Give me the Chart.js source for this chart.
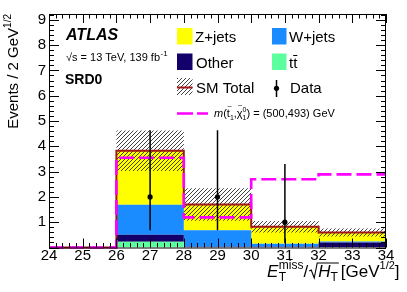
<!DOCTYPE html>
<html>
<head>
<meta charset="utf-8">
<script src="https://cdn.jsdelivr.net/npm/chart.js@4.4.0/dist/chart.umd.min.js"></script>
<style>
  html, body { margin: 0; padding: 0; background: #fff; }
  #wrap { width: 407px; height: 292px; }
</style>
</head>
<body>
<div id="wrap"><canvas id="chart"></canvas></div>
<script>
// histogram bins (E_T^miss / sqrt(H_T))
const binEdges = [24, 26, 28, 30, 32, 34];
const ttbar  = [0, 0.23, 0.00, 0.00, 0.00];
const other  = [0, 0.27, 0.03, 0.03, 0.20];
const wjets  = [0, 1.19, 0.65, 0.12, 0.04];
const zjets  = [0, 2.13, 1.02, 0.67, 0.35];
const smTotal = [0, 3.82, 1.70, 0.82, 0.59];
const smUnc   = [0, 0.80, 0.64, 0.23, 0.16];
const signal  = [0, 3.55, 1.19, 2.70, 2.89];
// data points with asymmetric errors
const dataX = [27, 29, 31];
const dataY = [2, 2, 1];
const dataErrLo = [1.32, 1.32, 0.83];
const dataErrHi = [2.63, 2.63, 2.30];

const xMin = 24, xMax = 34, yMax = 9.23;
const FF = '"Liberation Sans", Arial, Helvetica, sans-serif';

// step points: one per bin edge, last bin repeated at the right edge
function steps(vals) {
  return binEdges.map((x, i) => ({ x, y: vals[Math.min(i, vals.length - 1)] }));
}
const bandLo = smTotal.map((v, i) => v - smUnc[i]);
const bandHi = smTotal.map((v, i) => v + smUnc[i]);

const errPts = [];
dataX.forEach((x, i) => {
  errPts.push({ x, y: dataY[i] - dataErrLo[i] }, { x, y: dataY[i] + dataErrHi[i] }, { x, y: null });
});

// hatch pattern for the SM uncertainty
const pc = document.createElement('canvas');
pc.width = 4; pc.height = 4;
const pctx = pc.getContext('2d');
pctx.strokeStyle = '#111';
pctx.lineWidth = 0.8;
pctx.beginPath();
pctx.moveTo(0, 4); pctx.lineTo(4, 0);
pctx.moveTo(-1, 1); pctx.lineTo(1, -1);
pctx.moveTo(3, 5); pctx.lineTo(5, 3);
pctx.stroke();
const hatch = pctx.createPattern(pc, 'repeat');

const C_Z = '#ffff00', C_W = '#1a8cff', C_O = '#14006b', C_T = '#5cff9d';
const C_SM = '#a01818', C_SIG = '#ff00ff';

function txt(ctx, s, x, y, font) {
  ctx.font = font;
  ctx.fillText(s, x, y);
  return ctx.measureText(s).width;
}

const decor = {
  id: 'decor',
  afterDraw(chart) {
    const ctx = chart.ctx;
    const { left, right, top, bottom } = chart.chartArea;
    const xs = chart.scales.x, ys = chart.scales.y;
    ctx.save();
    ctx.strokeStyle = '#000';
    ctx.fillStyle = '#000';
    ctx.lineWidth = 1;

    // inward ticks on all four sides
    ctx.beginPath();
    for (let k = 0; xMin + k * 0.2 <= xMax + 1e-6; k++) {
      const px = Math.round(xs.getPixelForValue(xMin + k * 0.2)) + 0.5;
      const len = k % 5 === 0 ? 9 : 4.5;
      ctx.moveTo(px, bottom); ctx.lineTo(px, bottom - len);
      ctx.moveTo(px, top); ctx.lineTo(px, top + len);
    }
    for (let k = 0; k * 0.2 <= yMax; k++) {
      const py = Math.round(ys.getPixelForValue(k * 0.2)) + 0.5;
      const len = k % 5 === 0 ? 10 : 5;
      ctx.moveTo(left, py); ctx.lineTo(left + len, py);
      ctx.moveTo(right, py); ctx.lineTo(right - len, py);
    }
    ctx.stroke();
    ctx.strokeRect(left + 0.5, top + 0.5, right - left - 1, bottom - top);

    ctx.textAlign = 'left';
    ctx.textBaseline = 'alphabetic';

    // ATLAS label
    txt(ctx, 'ATLAS', 66, 40, `italic bold 16px ${FF}`);
    let w = txt(ctx, '\u221As = 13 TeV, 139 fb', 66, 61, `11px ${FF}`);
    txt(ctx, '-1', 66 + w + 0.5, 56, `8px ${FF}`);
    txt(ctx, 'SRD0', 65, 84, `bold 14px ${FF}`);

    // legend
    const f15 = `15px ${FF}`;
    ctx.fillStyle = C_Z; ctx.fillRect(177, 28, 15.5, 16.5);
    ctx.fillStyle = C_W; ctx.fillRect(272, 28, 14.5, 16.5);
    ctx.fillStyle = C_O; ctx.fillRect(177, 53.5, 15.5, 16.5);
    ctx.fillStyle = C_T; ctx.fillRect(272, 53.5, 14.5, 16.5);
    ctx.fillStyle = hatch; ctx.fillRect(177, 78, 15.5, 17);
    ctx.fillStyle = '#000';
    txt(ctx, 'Z+jets', 195, 42, f15);
    txt(ctx, 'W+jets', 289, 42, f15);
    txt(ctx, 'Other', 196, 68, f15);
    w = txt(ctx, 't', 289, 68, f15);
    const w2 = txt(ctx, 't', 289 + w, 68, f15);
    ctx.beginPath(); ctx.moveTo(289 + w, 55.5); ctx.lineTo(289 + w + w2, 55.5); ctx.lineWidth = 1; ctx.stroke();
    txt(ctx, 'SM Total', 196, 93, f15);
    txt(ctx, 'Data', 290, 93, f15);
    ctx.strokeStyle = C_SM; ctx.lineWidth = 2;
    ctx.beginPath(); ctx.moveTo(177, 87.5); ctx.lineTo(192.5, 87.5); ctx.stroke();
    ctx.strokeStyle = '#000'; ctx.lineWidth = 1.5;
    ctx.beginPath(); ctx.moveTo(276.5, 80); ctx.lineTo(276.5, 97); ctx.stroke();
    ctx.beginPath(); ctx.arc(276.5, 88.3, 2.6, 0, Math.PI * 2); ctx.fill();
    ctx.strokeStyle = C_SIG; ctx.lineWidth = 2.6; ctx.setLineDash([16, 4]);
    ctx.beginPath(); ctx.moveTo(177, 113.5); ctx.lineTo(208, 113.5); ctx.stroke();
    ctx.setLineDash([]);

    // signal label m(t~1, chi~1^0) = (500,493) GeV
    const by = 117;
    let x = 214;
    x += txt(ctx, 'm', x, by, `italic 11px ${FF}`);
    x += txt(ctx, '(', x, by, `11px ${FF}`);
    txt(ctx, '~', x + 0.5, by - 8, `8px ${FF}`);
    x += txt(ctx, 't', x, by, `11px ${FF}`);
    x += txt(ctx, '1', x, by + 3, `7px ${FF}`);
    x += txt(ctx, ',', x, by, `11px ${FF}`);
    txt(ctx, '~', x + 1, by - 9, `8px ${FF}`);
    x += txt(ctx, '\u03C7', x, by, `11px ${FF}`);
    txt(ctx, '0', x, by - 5, `7px ${FF}`);
    x += txt(ctx, '1', x, by + 3, `7px ${FF}`);
    txt(ctx, ') = (500,493) GeV', x, by, `11px ${FF}`);

    // x axis title
    let tx = 267; const tb = 277;
    tx += txt(ctx, 'E', tx, tb, `italic 17px ${FF}`) + 0.5;
    const wm = txt(ctx, 'miss', tx, tb - 8, `12px ${FF}`);
    txt(ctx, 'T', tx, tb + 4, `12px ${FF}`);
    tx += wm;
    tx += txt(ctx, '/', tx, tb, `17px ${FF}`) + 1;
    ctx.font = `italic 17px ${FF}`; const wH = ctx.measureText('H').width;
    ctx.font = `12px ${FF}`; const wT = ctx.measureText('T').width;
    const sx = tx, ex = sx + 9 + wH + wT + 1;
    ctx.strokeStyle = '#000'; ctx.lineWidth = 1.1;
    ctx.beginPath();
    ctx.moveTo(sx, tb - 6); ctx.lineTo(sx + 2, tb - 7); ctx.lineTo(sx + 5, tb + 1);
    ctx.lineTo(sx + 8, tb - 14); ctx.lineTo(ex, tb - 14);
    ctx.stroke();
    tx = sx + 9;
    tx += txt(ctx, 'H', tx, tb, `italic 17px ${FF}`);
    tx += txt(ctx, 'T', tx, tb + 4, `12px ${FF}`) + 3;
    tx += txt(ctx, '[GeV', tx, tb, `17px ${FF}`);
    tx += txt(ctx, '1/2', tx, tb - 8, `11px ${FF}`);
    txt(ctx, ']', tx, tb, `17px ${FF}`);

    // y axis title (rotated, end aligned at the top)
    ctx.translate(18, 14);
    ctx.rotate(-Math.PI / 2);
    ctx.font = `15px ${FF}`;
    const wa = ctx.measureText('Events / 2 GeV').width;
    ctx.font = `10px ${FF}`;
    const wb = ctx.measureText('1/2').width;
    txt(ctx, 'Events / 2 GeV', -(wa + wb), 0, `15px ${FF}`);
    txt(ctx, '1/2', -wb, -7, `10px ${FF}`);
    ctx.restore();
  }
};

const line = { pointRadius: 0, stepped: true, fill: false };

new Chart(document.getElementById('chart'), {
  type: 'line',
  data: {
    datasets: [
      { label: 'err', data: errPts, borderColor: '#000', borderWidth: 1.5, pointRadius: 0, spanGaps: false, fill: false, stack: 'e' },
      { label: 'Data', data: dataX.map((x, i) => ({ x, y: dataY[i] })), showLine: false, pointRadius: 2.6,
        pointBackgroundColor: '#000', pointBorderWidth: 0, stack: 'd' },
      { ...line, label: 'signal', data: steps(signal), borderColor: C_SIG, borderWidth: 2.6, borderDash: [15, 5], stack: 's', clip: 4 },
      { ...line, label: 'SM Total', data: steps(smTotal), borderColor: C_SM, borderWidth: 2, stack: 't', clip: 4 },
      { ...line, label: 'bandHi', data: steps(bandHi), borderWidth: 0, backgroundColor: hatch, fill: '+1', stack: 'bh' },
      { ...line, label: 'bandLo', data: steps(bandLo), borderWidth: 0, stack: 'bl' },
      { ...line, label: 'ttbar', data: steps(ttbar), borderWidth: 0, backgroundColor: C_T, fill: 'origin', stack: 'bkg' },
      { ...line, label: 'Other', data: steps(other), borderWidth: 0, backgroundColor: C_O, fill: '-1', stack: 'bkg' },
      { ...line, label: 'W+jets', data: steps(wjets), borderWidth: 0, backgroundColor: C_W, fill: '-1', stack: 'bkg' },
      { ...line, label: 'Z+jets', data: steps(zjets), borderWidth: 0, backgroundColor: C_Z, fill: '-1', stack: 'bkg' }
    ]
  },
  options: {
    responsive: true,
    maintainAspectRatio: false,
    animation: false,
    devicePixelRatio: 1,
    layout: { padding: { top: 14, right: 21, left: 0, bottom: 0 } },
    plugins: { legend: { display: false }, tooltip: { enabled: false } },
    scales: {
      x: {
        type: 'linear', min: xMin, max: xMax,
        grid: { display: false, drawTicks: false },
        border: { display: false },
        ticks: { stepSize: 1, autoSkip: false, maxRotation: 0, padding: -1, color: '#000', font: { family: FF, size: 15 } },
        afterFit: s => { s.height = 44.5; }
      },
      y: {
        type: 'linear', stacked: true, min: 0, max: yMax,
        grid: { display: false, drawTicks: false },
        border: { display: false },
        ticks: { stepSize: 1, includeBounds: false, padding: 3, color: '#000', font: { family: FF, size: 15 },
          callback: v => (v === 0 ? '' : v) },
        afterFit: s => { s.width = 49; }
      }
    }
  },
  plugins: [decor]
});
</script>
</body>
</html>
